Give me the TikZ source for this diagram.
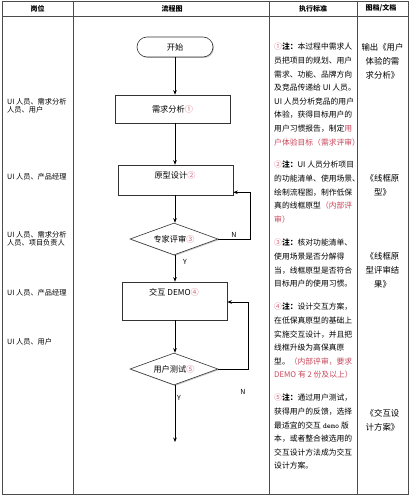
\documentclass[tikz,border=0pt]{standalone}
\usepackage{fontspec}
\setmainfont{Noto Sans CJK SC}
\usetikzlibrary{shapes.geometric,arrows.meta,shadows}
\definecolor{notered}{RGB}{200,70,90}
\definecolor{numred}{RGB}{215,110,130}
\newcommand{\myrd}[1]{\textcolor{notered}{#1}}
\newcommand{\mynum}[1]{\textcolor{numred}{#1}}
\begin{document}
\begin{tikzpicture}[x=1pt,y=-1pt,
  grid/.style={draw=black!70,line width=0.7pt},
  hdr/.style={font=\fontsize{7}{8}\selectfont\bfseries,inner sep=0},
  role/.style={anchor=north west,align=left,font=\fontsize{7.2}{8.2}\selectfont,inner sep=0},
  note/.style={anchor=north west,align=left,font=\fontsize{7.8}{13.6}\selectfont,inner sep=0},
  doc/.style={anchor=north,align=center,font=\fontsize{8.4}{14}\selectfont,inner sep=0},
  flowtxt/.style={font=\fontsize{8.2}{10}\selectfont,inner sep=0},
  box/.style={draw=black!80,line width=0.6pt,fill=white,rectangle,inner sep=0,
    drop shadow={shadow xshift=1pt,shadow yshift=-1pt,opacity=0.45}},
  dia/.style={draw=black!80,line width=0.6pt,fill=white,diamond,aspect=2.75,inner sep=0,
    minimum width=88pt,minimum height=32pt,font=\fontsize{8.2}{10}\selectfont,
    drop shadow={shadow xshift=1pt,shadow yshift=-1pt,opacity=0.45}},
  arr/.style={draw=black,line width=0.7pt,-{Stealth[length=4.5pt,width=3.6pt]}},
  yn/.style={font=\fontsize{7}{8}\selectfont,inner sep=0}]
\useasboundingbox (0,0) rectangle (410,500);
% table
\draw[grid] (2,1) rectangle (408,494);
\draw[grid] (2,16) -- (408,16);
\draw[grid] (73,1) -- (73,494);
\draw[grid] (269,1) -- (269,494);
\draw[grid] (357,1) -- (357,494);
\node[hdr] (h1) at (37.5,8.5) {岗位};
\node[hdr] (h2) at (172,8.5) {流程图};
\node[hdr] (h3) at (313,8.5) {执行标准};
\node[hdr] (h4) at (381,8.5) {图档/文档};
% roles
\node[role] (r1) at (7,98) {UI 人员、需求分析\\人员、用户};
\node[role] (r2) at (7,173.5) {UI 人员、产品经理};
\node[role] (r3) at (7,231.5) {UI 人员、需求分析\\人员、项目负责人};
\node[role] (r4) at (7,289.5) {UI 人员、产品经理};
\node[role] (r5) at (7,338.5) {UI 人员、用户};
% flow chart
\node[box,rounded corners=10pt,minimum width=76pt,minimum height=20pt,font=\fontsize{8.2}{10}\selectfont] (start) at (175,47) {开始};
\node[box,minimum width=115pt,minimum height=28pt,font=\fontsize{8.2}{10}\selectfont] (b1) at (172.5,109) {需求分析\mynum{①}};
\node[box,minimum width=115pt,minimum height=30pt] (b2) at (175.5,180) {};
\node[flowtxt] (b2t) at (175,175) {原型设计\mynum{②}};
\node[dia] (d1) at (174,239) {专家评审\mynum{③}};
\node[box,minimum width=105pt,minimum height=38pt] (b3) at (174.5,301) {};
\node[flowtxt] (b3t) at (174,292) {交互 DEMO\mynum{④}};
\node[dia] (d2) at (174,369) {用户测试\mynum{⑤}};
\coordinate (fend) at (175,442);
\draw[arr] (start.south) -- (start.south |- b1.north);
\draw[arr] (b1.south -| start.south) -- (start.south |- b2.north);
\draw[arr] (b2.south -| start.south) -- (start.south |- d1.north);
\draw[arr] (d1.south -| start.south) -- (start.south |- b3.north);
\draw[arr] (b3.south -| start.south) -- (start.south |- d2.north);
\draw[arr] (d2.south -| start.south) -- (fend);
\draw[arr] (d1.east) -- ++(32,0) |- ([yshift=3pt]b2.south east);
\draw[arr] (d2.east) -- ++(30,0) |- ([yshift=-1pt]b3.east);
\node[yn] (n1) at (234,235) {N};
\node[yn] (y1) at (185,262) {Y};
\node[yn] (n2) at (243,392) {N};
\node[yn] (y2) at (179,398) {Y};
% notes
\node[note] (t1) at (274,43) {\mynum{①}\textbf{注：}本过程中需求人\\员把项目的规划、用户\\需求、功能、品牌方向\\及竞品传递给 UI 人员。\\UI 人员分析竞品的用户\\体验，获得目标用户的\\用户习惯报告，制定\myrd{用}\\\myrd{户体验目标（需求评审）}};
\node[note] (t2) at (274,161) {\mynum{②}\textbf{注：}UI 人员分析项目\\的功能清单、使用场景、\\绘制流程图，制作低保\\真的线框原型\myrd{（内部评}\\\myrd{审）}};
\node[note] (t3) at (274,239) {\mynum{③}\textbf{注：}核对功能清单、\\使用场景是否分解得\\当，线框原型是否符合\\目标用户的使用习惯。};
\node[note] (t4) at (274,303) {\mynum{④}\textbf{注：}设计交互方案，\\在低保真原型的基础上\\实施交互设计，并且把\\线框升级为高保真原\\型。\myrd{（内部评审，要求}\\\myrd{DEMO 有 2 份及以上）}};
\node[note] (t5) at (274,394) {\mynum{⑤}\textbf{注：}通过用户测试，\\获得用户的反馈，选择\\最适宜的交互 \texttt{demo} 版\\本，或者整合被选用的\\交互设计方法成为交互\\设计方案。};
% documents
\node[doc] (o1) at (382.5,43) {输出《用户\\体验的需\\求分析》};
\node[doc] (o2) at (382.5,174) {《线框原\\型》};
\node[doc] (o3) at (382.5,252) {《线框原\\型评审结\\果》};
\node[doc] (o4) at (382.5,409) {《交互设\\计方案》};
\end{tikzpicture}
\end{document}
